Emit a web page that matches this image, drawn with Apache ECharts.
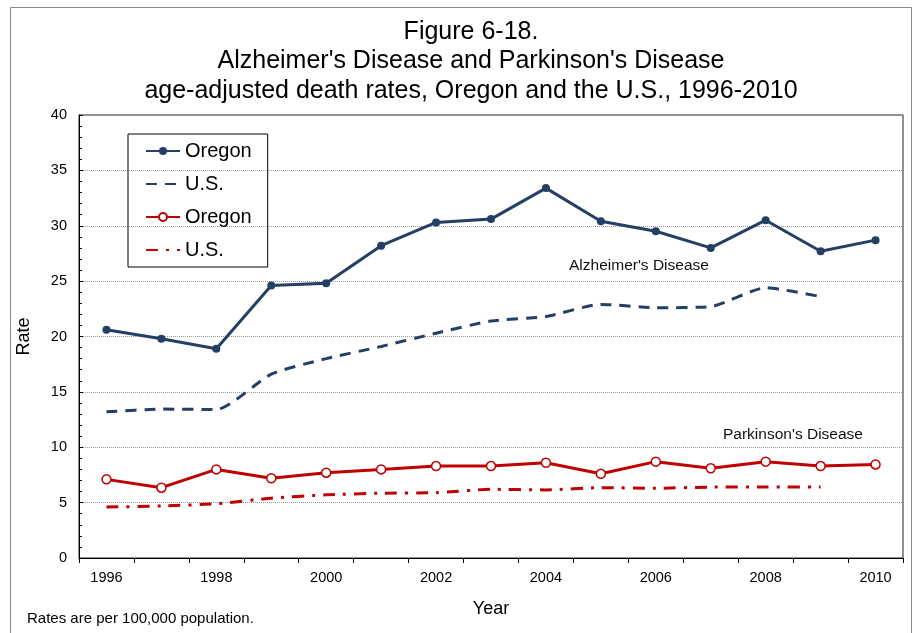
<!DOCTYPE html>
<html>
<head>
<meta charset="utf-8">
<script src="https://cdn.jsdelivr.net/npm/echarts@6/dist/echarts.min.js"></script>
<style>
  html, body { margin: 0; padding: 0; background: #fff; }
  #chart { width: 919px; height: 633px; }
</style>
</head>
<body>
<div id="chart"></div>
<script>
// 연도 (x축)
var years = ['1996', '1997', '1998', '1999', '2000', '2001', '2002', '2003',
             '2004', '2005', '2006', '2007', '2008', '2009', '2010'];

// 알츠하이머 사망률
var alzOregon = [20.6, 19.8, 18.9, 24.6, 24.8, 28.2, 30.3, 30.6, 33.4, 30.4, 29.5, 28.0, 30.5, 27.7, 28.7];
var alzUS     = [13.2, 13.45, 13.4, 16.6, 18.0, 19.1, 20.3, 21.4, 21.8, 22.9, 22.6, 22.7, 24.4, 23.6, '-'];

// 파킨슨 사망률
var parkOregon = [7.1, 6.35, 8.0, 7.2, 7.7, 8.0, 8.3, 8.3, 8.6, 7.6, 8.7, 8.1, 8.7, 8.3, 8.45];
var parkUS     = [4.6, 4.7, 4.9, 5.4, 5.7, 5.85, 5.9, 6.2, 6.15, 6.35, 6.3, 6.4, 6.4, 6.4, '-'];

var navy = '#243F63';
var red = '#C00000';
var font = 'Liberation Sans, Arial, sans-serif';

var myChart = echarts.init(document.getElementById('chart'));

var option = {
	animation: false,
	backgroundColor: '#fff',
	textStyle: { fontFamily: font },
	title: {
		text: 'Figure 6-18.\nAlzheimer\'s Disease and Parkinson\'s Disease\nage-adjusted death rates, Oregon and the U.S., 1996-2010',
		left: 466,
		top: 12,
		textAlign: 'center',
		textStyle: { fontSize: 25, fontWeight: 'normal', color: '#000', lineHeight: 29.5, fontFamily: font }
	},
	legend: {
		orient: 'vertical',
		left: 128,
		top: 134,
		padding: [6, 16, 6, 17],
		itemGap: 11,
		itemWidth: 34,
		itemHeight: 10,
		borderColor: '#000',
		borderWidth: 1,
		textStyle: { fontSize: 20, color: '#000', lineHeight: 22, fontFamily: font },
		formatter: function (name) { return name.split('|')[0]; }, // 같은 이름 구분용
		data: [
			'Oregon|alz',
			{ name: 'U.S.|alz', itemStyle: { opacity: 0 } }, // 점선은 심볼 없음
			'Oregon|park',
			{ name: 'U.S.|park', itemStyle: { opacity: 0 } }
		]
	},
	grid: {
		left: 79,
		right: 16,
		top: 115,
		bottom: 75,
		show: true,
		borderColor: '#222',
		borderWidth: 1
	},
	xAxis: {
		type: 'category',
		data: years,
		boundaryGap: true,
		name: 'Year',
		nameLocation: 'middle',
		nameGap: 42,
		nameTextStyle: { fontSize: 18, color: '#000' },
		axisLine: { lineStyle: { color: '#000', width: 1 } },
		axisTick: { show: true, inside: false, length: 5, interval: 0, lineStyle: { color: '#000' } },
		axisLabel: { interval: 1, fontSize: 14.5, color: '#000', margin: 12 }
	},
	yAxis: {
		type: 'value',
		min: 0,
		max: 40,
		interval: 5,
		name: 'Rate',
		nameLocation: 'middle',
		nameRotate: 90,
		nameGap: 46,
		nameTextStyle: { fontSize: 18, color: '#000' },
		axisLine: { show: true, lineStyle: { color: '#000', width: 1 } },
		axisTick: { show: true, inside: true, length: 4, lineStyle: { color: '#000' } },
		minorTick: { show: true, splitNumber: 5, length: 3, lineStyle: { color: '#000' } },
		axisLabel: { fontSize: 14.5, color: '#000', margin: 12 },
		splitLine: { show: true, lineStyle: { color: '#999', type: [1, 1], width: 1 } }
	},
	graphic: [
		{ type: 'rect', shape: { x: 10.5, y: 7.5, width: 901, height: 640 },
		  style: { fill: 'none', stroke: '#888', lineWidth: 1 }, silent: true, z: -1 },
		{ type: 'text', left: 569, top: 258,
		  style: { text: 'Alzheimer\'s Disease', fontSize: 15.5, fill: '#111', fontFamily: font } },
		{ type: 'text', left: 723, top: 427,
		  style: { text: 'Parkinson\'s Disease', fontSize: 15.5, fill: '#111', fontFamily: font } },
		{ type: 'text', left: 27, top: 611,
		  style: { text: 'Rates are per 100,000 population.', fontSize: 15, fill: '#000', fontFamily: font } }
	],
	series: [
		{
			name: 'Oregon|alz',
			type: 'line',
			data: alzOregon,
			symbol: 'circle',
			symbolSize: 8,
			itemStyle: { color: navy },
			lineStyle: { color: navy, width: 3 },
			z: 5
		},
		{
			name: 'U.S.|alz',
			type: 'line',
			data: alzUS,
			symbol: 'none',
			smooth: 0.2,
			itemStyle: { color: navy },
			lineStyle: { color: navy, width: 3, type: [11, 8] }
		},
		{
			name: 'Oregon|park',
			type: 'line',
			data: parkOregon,
			symbol: 'circle',
			symbolSize: 9,
			itemStyle: { color: '#fff', borderColor: red, borderWidth: 1.5 },
			lineStyle: { color: red, width: 3 },
			z: 5
		},
		{
			name: 'U.S.|park',
			type: 'line',
			data: parkUS,
			symbol: 'none',
			smooth: 0.2,
			itemStyle: { color: red },
			lineStyle: { color: red, width: 3, type: [12, 8, 3, 8] }
		}
	]
};

myChart.setOption(option);
</script>
</body>
</html>
